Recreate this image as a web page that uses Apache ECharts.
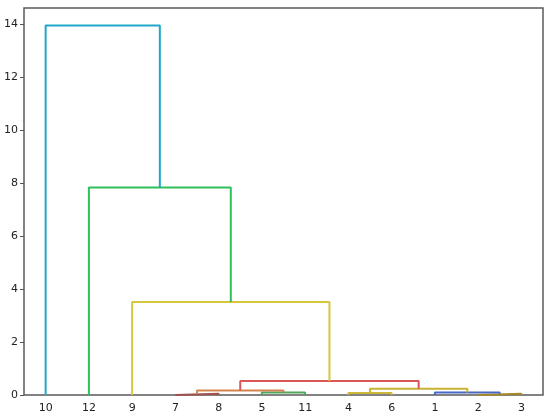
<!DOCTYPE html>
<html>
<head>
<meta charset="utf-8">
<script src="https://cdn.jsdelivr.net/npm/echarts@6/dist/echarts.min.js"></script>
<style>html,body{margin:0;padding:0;background:#fff}#c{width:550px;height:420px}</style>
</head>
<body>
<div id="c"></div>
<script>
// Leaf order along the x axis
const leaves = ['10','12','9','7','8','5','11','4','6','1','2','3'];
// Linkage: [left child, right child, merge height]; children are leaf labels or 'c<k>' (k-th merge)
const merges = [
  ['7', '8', 0.05],
  ['2', '3', 0.05],
  ['4', '6', 0.08],
  ['5', '11', 0.09],
  ['1', 'c1', 0.09],
  ['c0', 'c3', 0.17],
  ['c2', 'c4', 0.24],
  ['c5', 'c6', 0.53],
  ['9', 'c7', 3.51],
  ['12', 'c8', 7.83],
  ['10', 'c9', 13.94]
];
const linkColors = ['#a0524e','#a68a2a','#cdb83a','#4fa65e','#4868c4','#d2834e','#c9b334','#d95757','#d6c63e','#2fbf5c','#1fa8c8'];
const yTicks = [0, 2, 4, 6, 8, 10, 12, 14];

// Positions derived from the linkage
const pos = {};
leaves.forEach((l, i) => { pos[l] = {x: i, y: 0}; });
const series = [];
merges.forEach((m, k) => {
  const a = pos[m[0]], b = pos[m[1]], h = m[2];
  pos['c' + k] = {x: (a.x + b.x) / 2, y: h};
  series.push({
    type: 'line', xAxisIndex: 1, yAxisIndex: 0,
    data: [[a.x, a.y], [a.x, h], [b.x, h], [b.x, b.y]],
    showSymbol: false, symbol: 'none', silent: true, z: 3 + k,
    lineStyle: {color: linkColors[k], width: 2}
  });
});

const chart = echarts.init(document.getElementById('c'), null, {renderer: 'canvas'});
chart.setOption({
  animation: false,
  backgroundColor: '#fff',
  grid: {left: 24, right: 7, top: 8, bottom: 25, show: true, borderColor: '#5a5a5a', borderWidth: 1.5, backgroundColor: 'transparent'},
  xAxis: [
    {type: 'category', data: leaves, position: 'bottom',
     axisLine: {show: false}, axisTick: {show: false}, splitLine: {show: false},
     axisLabel: {color: '#222', fontSize: 11, fontFamily: 'DejaVu Sans', margin: 8}},
    {type: 'value', min: -0.5, max: 11.5, show: false}
  ],
  yAxis: [{
    type: 'value', min: 0, max: 14.6, interval: 2, position: 'left',
    axisLine: {show: false, onZero: false},
    axisTick: {show: true, length: 4, customValues: yTicks, lineStyle: {color: '#555', width: 1}},
    splitLine: {show: false},
    axisLabel: {color: '#222', fontSize: 11, fontFamily: 'DejaVu Sans', margin: 6, customValues: yTicks}
  }],
  series: series
});
</script>
</body>
</html>
